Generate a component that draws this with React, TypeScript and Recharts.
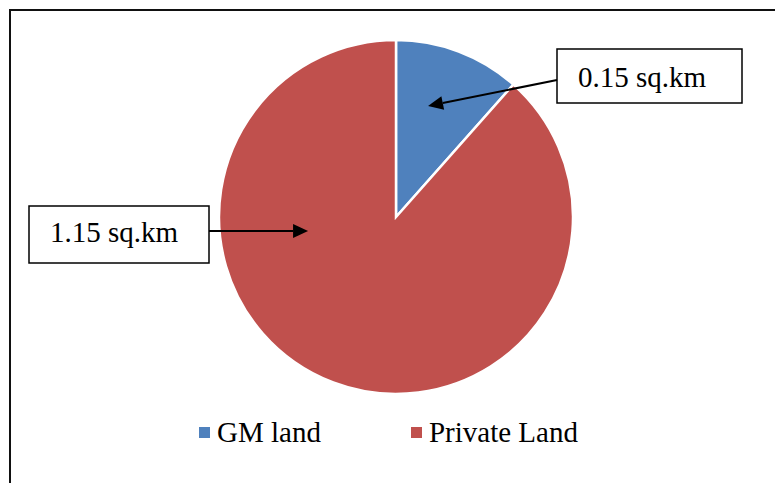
import { PieChart, Pie, Cell, Legend, Customized } from 'recharts'

const categories = ['GM land', 'Private Land']
const areas = [0.15, 1.15]
const valueLabels = ['0.15 sq.km', '1.15 sq.km']
const colors = ['#4F81BD', '#C0504D']

const data = categories.map((name, i) => ({ name, value: areas[i] }))

const FONT = '"Liberation Serif", "DejaVu Serif", serif'
const RAD = Math.PI / 180

// callout boxes (layout only) and where each arrow lands inside its slice
const callouts = [
  { x: 557, y: 49, w: 185, h: 54, tx: 578, ty: 87, tailX: 557, tailY: 80, tipAngle: 73.9, tipFrac: 0.653 },
  { x: 29, y: 206, w: 180, h: 57, tx: 50, ty: 242, tailX: 209, tailY: 231, tipAngle: 189, tipFrac: 0.503 },
]

function renderCallout(props: any) {
  const { cx, cy, outerRadius, index } = props
  const c = callouts[index]
  const r = outerRadius * c.tipFrac
  const tipX = cx + r * Math.cos(-c.tipAngle * RAD)
  const tipY = cy + r * Math.sin(-c.tipAngle * RAD)
  const dx = tipX - c.tailX
  const dy = tipY - c.tailY
  const len = Math.sqrt(dx * dx + dy * dy)
  const ux = dx / len
  const uy = dy / len
  const bx = tipX - ux * 15
  const by = tipY - uy * 15
  const head = `${tipX},${tipY} ${bx - uy * 7},${by + ux * 7} ${bx + uy * 7},${by - ux * 7}`
  return (
    <g key={`callout-${index}`}>
      <rect x={c.x} y={c.y} width={c.w} height={c.h} fill="#fff" stroke="#000" strokeWidth={1.5} />
      <text x={c.tx} y={c.ty} style={{ fontFamily: FONT }} fontSize={29} fill="#000">
        {valueLabels[index]}
      </text>
      <line x1={c.tailX} y1={c.tailY} x2={bx} y2={by} stroke="#000" strokeWidth={2} />
      <polygon points={head} fill="#000" />
    </g>
  )
}

function renderLegend() {
  return (
    <div style={{ display: 'flex', gap: 90, fontFamily: FONT, fontSize: 29, lineHeight: '29px', color: '#000' }}>
      {categories.map((name, i) => (
        <div key={name} style={{ display: 'flex', alignItems: 'center', whiteSpace: 'nowrap' }}>
          <span style={{ display: 'inline-block', width: 11, height: 11, background: colors[i], marginRight: 7 }} />
          <span>{name}</span>
        </div>
      ))}
    </div>
  )
}

function Frame() {
  return <path d="M10,490 L10,10 L790,10" fill="none" stroke="#111" strokeWidth={2} />
}

export default function App() {
  return (
    <div style={{ position: 'absolute', left: 0, top: 0, width: 775, height: 483, background: '#fff' }}>
      <PieChart width={775} height={483} margin={{ top: 0, right: 0, bottom: 0, left: 0 }}>
        <Customized component={Frame} />
        <Pie
          data={data}
          dataKey="value"
          nameKey="name"
          cx={396}
          cy={217}
          outerRadius={177}
          startAngle={90}
          endAngle={-270}
          stroke="#fff"
          strokeWidth={2.5}
          label={renderCallout}
          labelLine={false}
          isAnimationActive={false}
        >
          {data.map((d, i) => (
            <Cell key={d.name} fill={colors[i]} />
          ))}
        </Pie>
        <Legend content={renderLegend} wrapperStyle={{ left: 199, top: 418, width: 420, height: 30 }} />
      </PieChart>
    </div>
  )
}
